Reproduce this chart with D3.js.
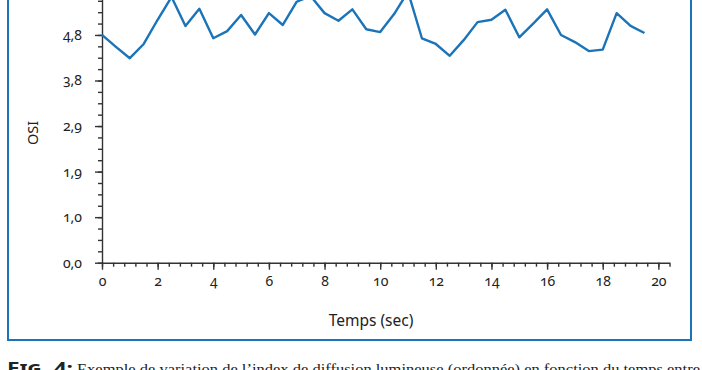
<!DOCTYPE html>
<html>
<head>
<meta charset="utf-8">
<script src="https://cdn.jsdelivr.net/npm/d3@7"></script>
<style>
  body { margin: 0; background: #fff; }
  svg { display: block; }
  .tick text { font-family: "Noto Sans", "Open Sans", sans-serif; font-feature-settings: "onum"; font-variant-numeric: oldstyle-nums; }
</style>
</head>
<body>
<svg id="chart"></svg>
<script>
// temps (sec) et OSI
const times = [0, 0.5, 1, 1.5, 2, 2.5, 3, 3.5, 4, 4.5, 5, 5.5, 6, 6.5, 7, 7.5, 8, 8.5, 9, 9.5,
               10, 10.5, 11, 11.5, 12, 12.5, 13, 13.5, 14, 14.5, 15, 15.5, 16, 16.5, 17, 17.5, 18, 18.5, 19, 19.5];
const osi = [4.80, 4.55, 4.31, 4.61, 5.12, 5.60, 4.99, 5.35, 4.73, 4.88, 5.22, 4.81, 5.26, 5.01, 5.50, 5.62, 5.26, 5.10, 5.34, 4.92,
             4.86, 5.24, 5.71, 4.73, 4.61, 4.36, 4.69, 5.07, 5.12, 5.33, 4.75, 5.04, 5.34, 4.80, 4.65, 4.46, 4.49, 5.26, 4.99, 4.84];

const yTicks = [0, 0.96, 1.92, 2.88, 3.84, 4.8];
const yTickLabels = ["0,0", "1,0", "1,9", "2,9", "3,8", "4,8"];
const xTicks = [0, 2, 4, 6, 8, 10, 12, 14, 16, 18, 20];

const width = 702;
const height = 370;
const blue = "#1b73b8";
const axisColor = "#333";

const svg = d3.select("#chart")
              .attr("width", width)
              .attr("height", height);

// cadre bleu
svg.append("rect")
   .attr("x", 8)
   .attr("y", -20)
   .attr("width", 683)
   .attr("height", 360)
   .attr("fill", "none")
   .attr("stroke", blue)
   .attr("stroke-width", 2);

const xScale = d3.scaleLinear()
                 .domain([0, 20.4])
                 .range([102, 669.5]);

const yScale = d3.scaleLinear()
                 .domain([0, 5.76])
                 .range([262.7, -10.6]);

// graduations secondaires
const xMinor = d3.range(0, 20.41, 0.4);
const yMinor = d3.range(0, 5.77, 0.24);

svg.append("g")
   .attr("transform", `translate(0, ${yScale(0)})`)
   .call(d3.axisBottom(xScale).tickValues(xMinor).tickSize(4).tickFormat("").tickSizeOuter(0))
   .call(g => g.selectAll("line, path").attr("stroke", axisColor).attr("stroke-width", 1.4));

svg.append("g")
   .attr("transform", `translate(${xScale(0)}, 0)`)
   .call(d3.axisLeft(yScale).tickValues(yMinor).tickSize(4).tickFormat("").tickSizeOuter(0))
   .call(g => g.selectAll("line, path").attr("stroke", axisColor).attr("stroke-width", 1.4));

// axes principaux
svg.append("g")
   .attr("id", "x-axis")
   .attr("transform", `translate(0, ${yScale(0)})`)
   .call(d3.axisBottom(xScale).tickValues(xTicks).tickSize(7).tickPadding(6).tickSizeOuter(0))
   .call(g => g.select(".domain").remove())
   .call(g => g.selectAll("line").attr("stroke", axisColor).attr("stroke-width", 1.4))
   .call(g => g.selectAll("text").attr("font-size", 14).attr("fill", "#222"));

svg.append("g")
   .attr("id", "y-axis")
   .attr("transform", `translate(${xScale(0)}, 0)`)
   .call(d3.axisLeft(yScale).tickValues(yTicks).tickSize(7).tickPadding(13)
           .tickFormat((d, i) => yTickLabels[i]))
   .call(g => g.select(".domain").remove())
   .call(g => g.selectAll("line").attr("stroke", axisColor).attr("stroke-width", 1.4))
   .call(g => g.selectAll("text").attr("font-size", 14).attr("fill", "#222"));

// courbe
const line = d3.line()
               .x((d, i) => xScale(times[i]))
               .y(d => yScale(d));

svg.append("path")
   .datum(osi)
   .attr("fill", "none")
   .attr("stroke", blue)
   .attr("stroke-width", 2.4)
   .attr("stroke-linejoin", "round")
   .attr("d", line);

// titres des axes
svg.append("text")
   .attr("x", 371)
   .attr("y", 326)
   .attr("text-anchor", "middle")
   .attr("font-family", "'Noto Sans', 'Open Sans', sans-serif")
   .attr("font-size", 15.5)
   .attr("fill", "#222")
   .text("Temps (sec)");

svg.append("text")
   .attr("transform", "translate(38, 133) rotate(-90)")
   .attr("text-anchor", "middle")
   .attr("font-family", "'Noto Sans', 'Open Sans', sans-serif")
   .attr("font-size", 14.5)
   .attr("fill", "#222")
   .text("OSI");

// légende de la figure
const caption = svg.append("text")
   .attr("y", 374)
   .attr("fill", "#222");

caption.append("tspan")
   .attr("x", 7)
   .attr("font-family", "'Noto Sans', sans-serif")
   .attr("font-weight", "bold")
   .attr("font-size", 16.5)
   .attr("font-variant", "small-caps")
   .attr("textLength", 66)
   .attr("lengthAdjust", "spacingAndGlyphs")
   .text("Fig. 4:");
caption.append("tspan")
   .attr("x", 77)
   .attr("font-family", "'Liberation Serif', serif")
   .attr("font-size", 15)
   .attr("textLength", 623)
   .attr("lengthAdjust", "spacingAndGlyphs")
   .text("Exemple de variation de l’index de diffusion lumineuse (ordonnée) en fonction du temps entre");
</script>
</body>
</html>
